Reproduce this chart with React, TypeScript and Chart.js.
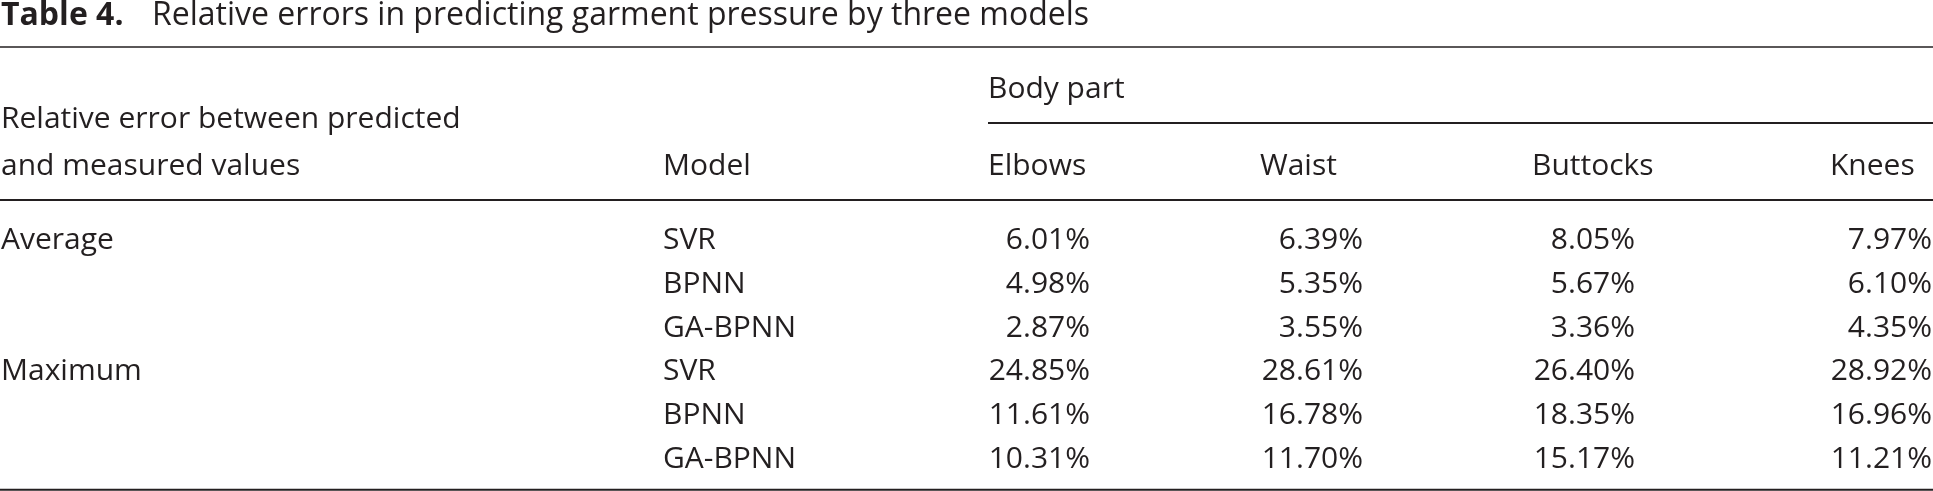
import React, { useEffect, useRef } from "react";
import { Chart, registerables } from "chart.js";

Chart.register(...registerables);

// ---------- content ----------
const TITLE_LABEL = "Table 4.";
const TITLE_TEXT = "Relative errors in predicting garment pressure by three models";
const GROUP_HEADER = "Body part";
const ROW_HEADER_LINES = ["Relative error between predicted", "and measured values"];
const MODEL_HEADER = "Model";
const BODY_PARTS = ["Elbows", "Waist", "Buttocks", "Knees"];
const GROUPS = ["Average", "Maximum"];
const MODELS = ["SVR", "BPNN", "GA-BPNN"];

// values in % (rows: Average SVR, BPNN, GA-BPNN, Maximum SVR, BPNN, GA-BPNN)
const ELBOWS = [6.01, 4.98, 2.87, 24.85, 11.61, 10.31];
const WAIST = [6.39, 5.35, 3.55, 28.61, 16.78, 11.7];
const BUTTOCKS = [8.05, 5.67, 3.36, 26.4, 18.35, 15.17];
const KNEES = [7.97, 6.1, 4.35, 28.92, 16.96, 11.21];
const SERIES = [ELBOWS, WAIST, BUTTOCKS, KNEES];

// ---------- layout ----------
const W = 1933;
const H = 491;
const COL_LABEL_X = 1;
const COL_MODEL_X = 663;
const COL_HEAD_X = [988, 1260, 1532, 1830];
const COL_NUM_RIGHT = [1090, 1363, 1635, 1932];
const TITLE_TEXT_X = 152;
const TITLE_BASE = 25;
const RULE_TOP = 47;
const GROUP_BASE = 98;
const RULE_GROUP = 123;
const HEAD1_BASE = 128;
const HEAD2_BASE = 175;
const RULE_HEAD = 200;
const ROW0_BASE = 249;
const ROW_STEP = 43.8;
const RULE_BOTTOM = 489.8;

const INK = "#231f20";
const FAMILY = "'Open Sans', Lato, sans-serif";
const BODY_SIZE = 30;
const TITLE_SIZE = 32;

const rowBase = (r: number) => ROW0_BASE + r * ROW_STEP;

const tablePlugin = {
  id: "tableText",
  afterDatasetsDraw(chart: any) {
    const { ctx } = chart;
    const xs = chart.scales.x;
    const ys = chart.scales.y;
    const px = (v: number) => xs.getPixelForValue(v);
    const py = (v: number) => ys.getPixelForValue(v);
    ctx.save();
    ctx.fillStyle = INK;
    ctx.strokeStyle = INK;
    ctx.textBaseline = "alphabetic";

    // title
    ctx.textAlign = "left";
    ctx.font = `700 ${TITLE_SIZE}px ${FAMILY}`;
    ctx.fillText(TITLE_LABEL, px(COL_LABEL_X), py(TITLE_BASE));
    ctx.font = `400 ${TITLE_SIZE}px ${FAMILY}`;
    ctx.fillText(TITLE_TEXT, px(TITLE_TEXT_X), py(TITLE_BASE));

    // rules
    const rule = (y: number, x0: number, x1: number, lw: number) => {
      ctx.lineWidth = lw;
      ctx.beginPath();
      ctx.moveTo(px(x0), py(y));
      ctx.lineTo(px(x1), py(y));
      ctx.stroke();
    };
    rule(RULE_TOP, 0, W, 1.4);
    rule(RULE_GROUP, COL_HEAD_X[0], W, 2);
    rule(RULE_HEAD, 0, W, 2);
    rule(RULE_BOTTOM, 0, W, 2);

    // headers
    ctx.font = `400 ${BODY_SIZE}px ${FAMILY}`;
    ctx.fillText(GROUP_HEADER, px(COL_HEAD_X[0]), py(GROUP_BASE));
    ctx.fillText(ROW_HEADER_LINES[0], px(COL_LABEL_X), py(HEAD1_BASE));
    ctx.fillText(ROW_HEADER_LINES[1], px(COL_LABEL_X), py(HEAD2_BASE));
    ctx.fillText(MODEL_HEADER, px(COL_MODEL_X), py(HEAD2_BASE));
    BODY_PARTS.forEach((b, i) => ctx.fillText(b, px(COL_HEAD_X[i]), py(HEAD2_BASE)));

    // row labels
    GROUPS.forEach((g, gi) => {
      ctx.fillText(g, px(COL_LABEL_X), py(rowBase(gi * MODELS.length)));
      MODELS.forEach((m, mi) => {
        ctx.fillText(m, px(COL_MODEL_X), py(rowBase(gi * MODELS.length + mi)));
      });
    });

    // cell values, placed by the scatter points
    ctx.textAlign = "right";
    chart.data.datasets.forEach((ds: any, i: number) => {
      const meta = chart.getDatasetMeta(i);
      meta.data.forEach((el: any, j: number) => {
        const v = SERIES[i][j];
        ctx.fillText(v.toFixed(2) + "%", el.x, el.y);
      });
    });
    ctx.restore();
  },
};

export default function App() {
  const ref = useRef<HTMLCanvasElement | null>(null);
  useEffect(() => {
    document.body.style.margin = "0";
    document.body.style.background = "#ffffff";
    const canvas = ref.current!;
    const chart = new Chart(canvas, {
      type: "scatter",
      data: {
        datasets: SERIES.map((vals, c) => ({
          label: BODY_PARTS[c],
          data: vals.map((_, r) => ({ x: COL_NUM_RIGHT[c], y: rowBase(r) })),
          pointRadius: 0,
          pointHoverRadius: 0,
          showLine: false,
        })),
      },
      options: {
        responsive: false,
        maintainAspectRatio: false,
        animation: false,
        devicePixelRatio: 1,
        layout: { padding: 0 },
        plugins: { legend: { display: false }, tooltip: { enabled: false } },
        scales: {
          x: { type: "linear", min: 0, max: W, display: false },
          y: { type: "linear", min: 0, max: H, reverse: true, display: false },
        },
      },
      plugins: [tablePlugin],
    });
    let alive = true;
    const fonts = (document as any).fonts;
    if (fonts && fonts.load) {
      Promise.all([
        fonts.load(`400 ${BODY_SIZE}px 'Open Sans'`),
        fonts.load(`700 ${TITLE_SIZE}px 'Open Sans'`),
      ]).then(() => alive && chart.update());
    }
    return () => {
      alive = false;
      chart.destroy();
    };
  }, []);
  return (
    <div style={{ width: W, height: H, background: "#fff" }}>
      <canvas ref={ref} width={W} height={H} style={{ width: W, height: H, display: "block" }} />
    </div>
  );
}
